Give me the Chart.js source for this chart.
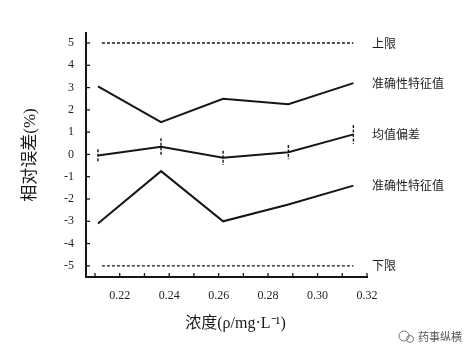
<!DOCTYPE html>
<html><head><meta charset="utf-8">
<script src="https://cdn.jsdelivr.net/npm/chart.js@4/dist/chart.umd.min.js"></script>
<style>html,body{margin:0;padding:0;background:#fff}#wrap{width:476px;height:348px}</style>
</head><body><div id="wrap"><canvas id="c" width="476" height="348"></canvas></div>
<script>
// ---- data ----
const concentrations = [0.2112, 0.2367, 0.2618, 0.2882, 0.3145];
const upperAccuracy  = [3.05, 1.45, 2.5, 2.25, 3.2];
const meanBias       = [-0.05, 0.35, -0.15, 0.1, 0.9];
const meanBiasError  = [0.28, 0.38, 0.32, 0.32, 0.42];
const lowerAccuracy  = [-3.1, -0.75, -3.0, -2.25, -1.4];
const limitX         = [0.2128, 0.3145];
const upperLimit     = [5, 5];
const lowerLimit     = [-5, -5];
const seriesLabels   = ['上限', '准确性特征值', '均值偏差', '准确性特征值', '下限'];
const yTickValues    = [-5, -4, -3, -2, -1, 0, 1, 2, 3, 4, 5];
const xTickValues    = [0.21, 0.22, 0.23, 0.24, 0.25, 0.26, 0.27, 0.28, 0.29, 0.30, 0.31, 0.32];
const xTickLabels    = ['', '0.22', '', '0.24', '', '0.26', '', '0.28', '', '0.30', '', '0.32'];
const yTitle = '相对误差(%)';
const xTitle = '浓度(ρ/mg·L⁻¹)';
const watermark = '药事纵横';

const pts = (xs, ys) => xs.map((x, i) => ({x, y: ys[i]}));
const INK = '#161616';
const MIXED = '"Liberation Serif", "Noto Sans CJK SC"';

const datasets = [
  {data: pts(limitX, upperLimit), borderColor: INK, borderWidth: 1.4, borderDash: [3, 2], pointRadius: 0},
  {data: pts(concentrations, upperAccuracy), borderColor: INK, borderWidth: 2, pointRadius: 0},
  {data: pts(concentrations, meanBias), borderColor: INK, borderWidth: 2, pointRadius: 0},
  {data: pts(concentrations, lowerAccuracy), borderColor: INK, borderWidth: 2, pointRadius: 0},
  {data: pts(limitX, lowerLimit), borderColor: INK, borderWidth: 1.4, borderDash: [3, 2], pointRadius: 0}
];

const decor = {
  id: 'decor',
  afterDatasetsDraw(chart) {
    const {ctx, scales: {x, y}, chartArea: a} = chart;
    ctx.save();
    ctx.strokeStyle = INK;
    ctx.lineWidth = 1.3;
    // inward tick marks
    yTickValues.forEach(v => {
      const py = y.getPixelForValue(v);
      ctx.beginPath(); ctx.moveTo(a.left - 1, py); ctx.lineTo(a.left + 4, py); ctx.stroke();
    });
    xTickValues.forEach(v => {
      const px = x.getPixelForValue(v);
      ctx.beginPath(); ctx.moveTo(px, a.bottom + 1); ctx.lineTo(px, a.bottom - 4); ctx.stroke();
    });
    // error bars on mean bias
    ctx.setLineDash([3, 1.5]);
    ctx.lineWidth = 1.4;
    concentrations.forEach((cx, i) => {
      const px = x.getPixelForValue(cx);
      const y1 = y.getPixelForValue(meanBias[i] + meanBiasError[i]);
      const y2 = y.getPixelForValue(meanBias[i] - meanBiasError[i]);
      ctx.beginPath(); ctx.moveTo(px, y1); ctx.lineTo(px, y2); ctx.stroke();
    });
    ctx.setLineDash([]);
    // series labels on the right
    ctx.fillStyle = '#1e1e1e';
    ctx.font = '12px "Noto Sans CJK SC"';
    ctx.textAlign = 'left';
    ctx.textBaseline = 'middle';
    chart.data.datasets.forEach((ds, i) => {
      const last = ds.data[ds.data.length - 1];
      ctx.fillText(seriesLabels[i], a.right + 5, y.getPixelForValue(last.y));
    });
    // x title
    ctx.font = '16px ' + MIXED;
    ctx.textAlign = 'center';
    ctx.fillStyle = '#1a1a1a';
    ctx.fillText(xTitle, (a.left + a.right) / 2 + 9, 324);
    // watermark
    ctx.font = '11px "Noto Sans CJK SC"';
    ctx.fillStyle = '#555';
    ctx.textAlign = 'left';
    ctx.fillText(watermark, 418, 337);
    ctx.strokeStyle = '#777'; ctx.lineWidth = 1;
    ctx.beginPath(); ctx.arc(404, 336, 5, 0, Math.PI * 2); ctx.stroke();
    ctx.beginPath(); ctx.arc(410, 339, 3.5, 0, Math.PI * 2); ctx.stroke();
    ctx.restore();
  }
};

new Chart(document.getElementById('c'), {
  type: 'line',
  data: {datasets},
  options: {
    responsive: false, animation: false, devicePixelRatio: 1,
    layout: {padding: {top: 33, right: 109, left: 0, bottom: 0}},
    plugins: {legend: {display: false}, tooltip: {enabled: false}},
    elements: {line: {tension: 0}},
    scales: {
      x: {
        type: 'linear', min: 0.20636, max: 0.32,
        afterFit(s) { s.height = 71; },
        afterBuildTicks(s) { s.ticks = xTickValues.map(v => ({value: v})); },
        grid: {display: true, drawOnChartArea: false, drawTicks: false},
        border: {display: true, color: INK, width: 2},
        ticks: {
          padding: 12, color: '#222', maxRotation: 0, autoSkip: false,
          font: {family: '"Liberation Serif"', size: 12},
          callback: (v, i) => xTickLabels[i]
        }
      },
      y: {
        min: -5.5, max: 5.45,
        afterFit(s) { s.width = 86; },
        afterBuildTicks(s) { s.ticks = yTickValues.map(v => ({value: v})); },
        grid: {display: true, drawOnChartArea: false, drawTicks: false},
        border: {display: true, color: INK, width: 2},
        ticks: {
          padding: 12, color: '#222',
          font: {family: '"Liberation Serif"', size: 12},
          callback: v => String(v)
        },
        title: {
          display: true, text: yTitle, color: '#1a1a1a',
          font: {family: MIXED, size: 17},
          padding: {top: 20, bottom: 0}
        }
      }
    }
  },
  plugins: [decor]
});
</script>
</body></html>
